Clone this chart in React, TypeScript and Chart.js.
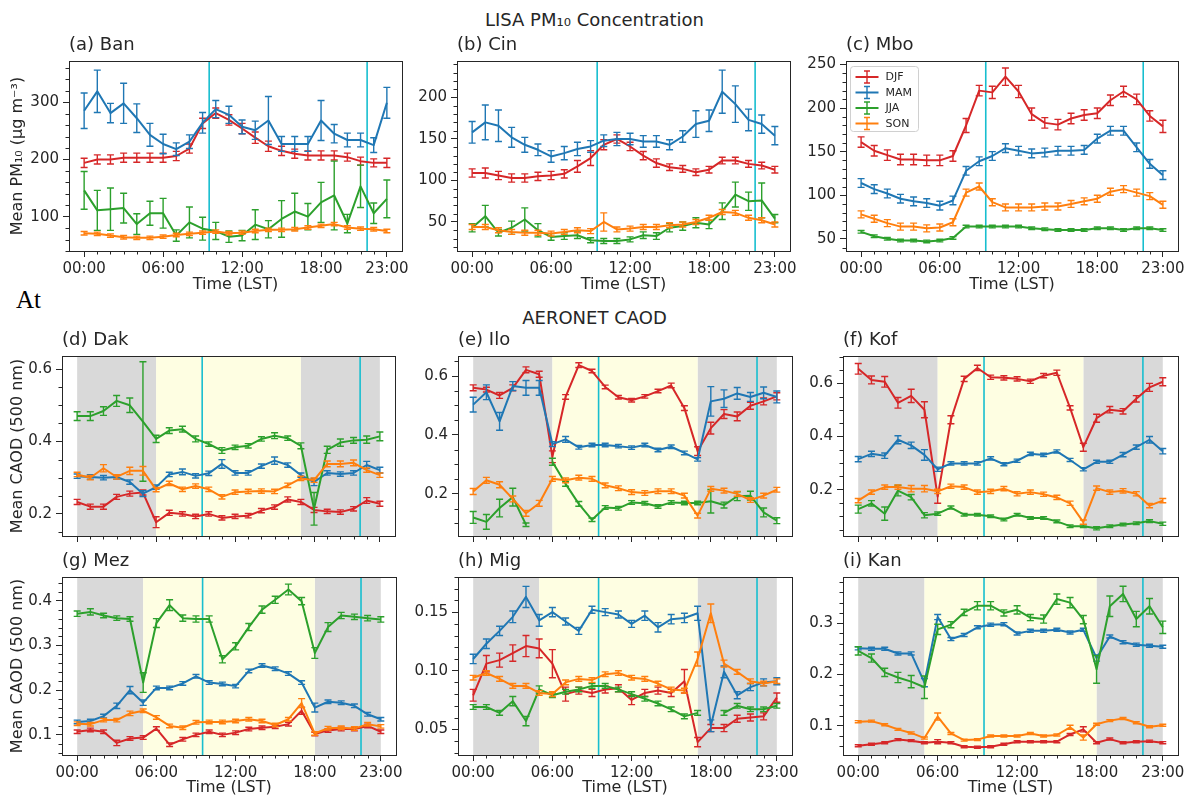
import { useEffect, useRef } from "react";
import { Chart, registerables } from "chart.js";

Chart.register(...registerables);

const FONT = '"DejaVu Sans", "Noto Sans", sans-serif';
const INK = "#262626";
const NIGHT_GRAY = "#d9d9d9";
const DAY_YELLOW = "#fefee2";
const OVERPASS_CYAN = "#17becf";

// Hours of the day (LST) and axis ticks
const HOURS = [0, 1, 2, 3, 4, 5, 6, 7, 8, 9, 10, 11, 12, 13, 14, 15, 16, 17, 18, 19, 20, 21, 22, 23];
const HOUR_TICKS = [0, 6, 12, 18, 23];
const HOUR_TICK_LABELS = ["00:00", "06:00", "12:00", "18:00", "23:00"];
const OVERPASS_HOURS = [9.5, 21.5];

const SEASONS = ["DJF", "MAM", "JJA", "SON"];
const SEASON_COLORS = ["#d62728", "#1f77b4", "#2ca02c", "#ff7f0e"];

// ---- LISA PM10 (µg m-3) ----
const banDJF = [194, 200, 200, 203, 203, 203, 203, 206, 219, 263, 281, 269, 254, 238, 223, 215, 210, 207, 207, 207, 204, 197, 194, 194];
const banDJFErr = [8, 8, 8, 8, 8, 8, 8, 8, 8, 9, 9, 9, 9, 10, 9, 8, 8, 8, 8, 8, 7, 7, 7, 8];
const banMAM = [285, 319, 281, 298, 272, 243, 227, 218, 231, 264, 288, 278, 257, 251, 268, 227, 227, 227, 268, 245, 234, 234, 225, 299];
const banMAMErr = [31, 37, 17, 35, 25, 20, 17, 11, 12, 18, 15, 15, 12, 16, 42, 13, 13, 13, 35, 16, 12, 12, 13, 27];
const banJJA = [146, 111, 113, 115, 87, 106, 106, 67, 90, 79, 75, 65, 67, 86, 78, 96, 109, 100, 125, 137, 88, 153, 106, 131];
const banJJAErr = [33, 35, 37, 26, 18, 21, 26, 10, 27, 20, 15, 10, 9, 26, 15, 32, 32, 23, 35, 60, 16, 37, 18, 33];
const banSON = [71, 70, 67, 64, 63, 63, 65, 68, 70, 72, 74, 71, 72, 75, 77, 77, 78, 81, 84, 87, 81, 79, 78, 75];
const banSONErr = [3, 3, 3, 3, 3, 3, 3, 3, 3, 3, 3, 3, 3, 3, 3, 3, 3, 3, 3, 3, 3, 3, 3, 3];

const cinDJF = [109, 109, 106, 103, 103, 105, 106, 108, 117, 127, 143, 150, 141, 130, 121, 116, 114, 110, 113, 124, 124, 120, 118, 113];
const cinDJFErr = [5, 6, 5, 5, 5, 5, 5, 5, 7, 9, 6, 5, 5, 5, 5, 4, 4, 4, 4, 4, 4, 4, 4, 4];
const cinMAM = [158, 170, 166, 152, 143, 137, 129, 133, 138, 141, 148, 150, 150, 147, 147, 143, 153, 168, 172, 207, 192, 173, 168, 154];
const cinMAMErr = [13, 21, 19, 12, 9, 7, 7, 8, 8, 7, 7, 8, 7, 7, 7, 6, 7, 16, 13, 26, 22, 13, 11, 11];
const cinJJA = [43, 57, 37, 43, 53, 40, 32, 33, 34, 28, 27, 27, 29, 34, 33, 43, 45, 49, 47, 63, 83, 75, 76, 54];
const cinJJAErr = [5, 13, 4, 8, 14, 8, 4, 4, 4, 3, 3, 3, 3, 4, 4, 5, 5, 6, 5, 10, 15, 11, 21, 5];
const cinSON = [44, 44, 40, 38, 37, 37, 36, 38, 40, 39, 50, 41, 42, 44, 44, 46, 47, 50, 55, 62, 61, 55, 52, 47];
const cinSONErr = [3, 3, 3, 3, 3, 3, 3, 3, 3, 3, 11, 3, 3, 3, 3, 3, 3, 3, 3, 3, 3, 3, 3, 3];

const mboDJF = [161, 151, 146, 141, 141, 140, 140, 145, 180, 220, 218, 236, 219, 193, 183, 181, 188, 192, 194, 209, 219, 210, 191, 179];
const mboDJFErr = [6, 6, 6, 6, 6, 6, 6, 6, 8, 6, 7, 10, 7, 7, 6, 6, 6, 6, 6, 6, 6, 6, 6, 7];
const mboMAM = [114, 107, 102, 96, 93, 91, 88, 94, 128, 139, 145, 154, 151, 148, 149, 151, 151, 152, 165, 174, 174, 155, 136, 123];
const mboMAMErr = [5, 5, 5, 5, 5, 5, 5, 5, 5, 5, 5, 5, 5, 5, 5, 5, 5, 5, 5, 5, 5, 5, 5, 5];
const mboJJA = [58, 53, 50, 48, 48, 47, 48, 51, 64, 64, 64, 64, 64, 62, 61, 60, 60, 60, 62, 62, 60, 62, 62, 60];
const mboJJAErr = [1.5, 1.5, 1.5, 1.5, 1.5, 1.5, 1.5, 1.5, 1.5, 1.5, 1.5, 1.5, 1.5, 1.5, 1.5, 1.5, 1.5, 1.5, 1.5, 1.5, 1.5, 1.5, 1.5, 1.5];
const mboSON = [78, 73, 68, 64, 64, 62, 63, 69, 103, 110, 92, 86, 86, 86, 87, 87, 90, 93, 96, 104, 107, 103, 99, 89];
const mboSONErr = [4, 4, 4, 4, 4, 4, 4, 4, 4, 4, 4, 4, 4, 4, 4, 4, 4, 4, 4, 4, 4, 4, 4, 4];

// ---- AERONET CAOD (500 nm) ----
const dakDJF = [0.233, 0.22, 0.22, 0.247, 0.256, 0.259, 0.177, 0.203, 0.2, 0.193, 0.2, 0.189, 0.193, 0.195, 0.209, 0.219, 0.24, 0.233, 0.211, 0.207, 0.205, 0.214, 0.237, 0.228];
const dakDJFErr = [0.007, 0.007, 0.007, 0.007, 0.007, 0.007, 0.015, 0.007, 0.006, 0.006, 0.006, 0.006, 0.006, 0.006, 0.006, 0.006, 0.007, 0.007, 0.007, 0.006, 0.006, 0.006, 0.008, 0.007];
const dakMAM = [0.304, 0.302, 0.3, 0.302, 0.288, 0.256, 0.274, 0.309, 0.316, 0.305, 0.312, 0.338, 0.313, 0.313, 0.332, 0.347, 0.335, 0.307, 0.288, 0.313, 0.31, 0.313, 0.335, 0.321];
const dakMAMErr = [0.006, 0.006, 0.006, 0.006, 0.006, 0.008, 0.006, 0.006, 0.008, 0.006, 0.006, 0.012, 0.006, 0.006, 0.006, 0.01, 0.006, 0.006, 0.01, 0.006, 0.006, 0.006, 0.01, 0.008];
const dakJJA = [0.47, 0.47, 0.484, 0.512, 0.5, 0.455, 0.407, 0.43, 0.434, 0.407, 0.393, 0.375, 0.384, 0.388, 0.407, 0.416, 0.409, 0.388, 0.214, 0.377, 0.397, 0.403, 0.405, 0.414];
const dakJJAErr = [0.012, 0.012, 0.012, 0.015, 0.02, 0.165, 0.01, 0.008, 0.008, 0.008, 0.006, 0.008, 0.006, 0.006, 0.006, 0.008, 0.006, 0.008, 0.045, 0.01, 0.01, 0.008, 0.01, 0.012];
const dakSON = [0.309, 0.3, 0.326, 0.302, 0.319, 0.319, 0.267, 0.284, 0.268, 0.277, 0.268, 0.247, 0.26, 0.262, 0.263, 0.262, 0.279, 0.298, 0.293, 0.338, 0.338, 0.341, 0.321, 0.307];
const dakSONErr = [0.006, 0.006, 0.01, 0.006, 0.01, 0.012, 0.006, 0.006, 0.006, 0.006, 0.006, 0.006, 0.006, 0.006, 0.006, 0.006, 0.006, 0.006, 0.006, 0.008, 0.008, 0.008, 0.006, 0.006];

const iloDJF = [0.56, 0.554, 0.534, 0.56, 0.621, 0.606, 0.326, 0.529, 0.637, 0.617, 0.563, 0.528, 0.518, 0.531, 0.549, 0.568, 0.491, 0.345, 0.423, 0.471, 0.463, 0.499, 0.514, 0.531];
const iloDJFErr = [0.01, 0.008, 0.01, 0.01, 0.01, 0.01, 0.02, 0.008, 0.008, 0.006, 0.006, 0.006, 0.006, 0.006, 0.006, 0.008, 0.008, 0.015, 0.02, 0.015, 0.015, 0.012, 0.012, 0.012];
const iloMAM = [0.503, 0.545, 0.446, 0.566, 0.56, 0.56, 0.369, 0.385, 0.358, 0.366, 0.366, 0.362, 0.357, 0.366, 0.349, 0.36, 0.339, 0.317, 0.514, 0.523, 0.541, 0.529, 0.543, 0.529];
const iloMAMErr = [0.025, 0.025, 0.03, 0.015, 0.025, 0.025, 0.008, 0.01, 0.006, 0.006, 0.006, 0.006, 0.006, 0.006, 0.006, 0.006, 0.006, 0.006, 0.05, 0.03, 0.02, 0.015, 0.02, 0.02];
const iloJJA = [0.12, 0.105, 0.152, 0.189, 0.095, null, 0.309, 0.234, 0.166, 0.112, 0.154, 0.151, 0.171, 0.168, 0.157, 0.171, 0.169, 0.169, 0.175, 0.162, 0.192, 0.194, 0.137, 0.109];
const iloJJAErr = [0.02, 0.025, 0.03, 0.03, 0.006, 0, 0.012, 0.008, 0.008, 0.006, 0.006, 0.006, 0.006, 0.006, 0.006, 0.006, 0.006, 0.006, 0.04, 0.01, 0.015, 0.015, 0.015, 0.01];
const iloSON = [0.208, 0.246, 0.231, 0.183, 0.134, 0.168, 0.251, 0.246, 0.255, 0.251, 0.229, 0.219, 0.206, 0.203, 0.209, 0.209, 0.194, 0.126, 0.217, 0.211, 0.2, 0.179, 0.194, 0.214];
const iloSONErr = [0.01, 0.01, 0.01, 0.01, 0.01, 0.01, 0.008, 0.008, 0.008, 0.008, 0.008, 0.008, 0.008, 0.008, 0.008, 0.008, 0.008, 0.008, 0.008, 0.008, 0.008, 0.008, 0.008, 0.008];

const kofDJF = [0.655, 0.613, 0.606, 0.527, 0.553, 0.501, 0.174, 0.463, 0.617, 0.658, 0.623, 0.621, 0.617, 0.608, 0.629, 0.64, 0.508, 0.36, 0.469, 0.501, 0.495, 0.542, 0.585, 0.606];
const kofDJFErr = [0.02, 0.015, 0.02, 0.02, 0.025, 0.03, 0.025, 0.015, 0.01, 0.01, 0.008, 0.008, 0.008, 0.008, 0.008, 0.01, 0.008, 0.015, 0.015, 0.012, 0.01, 0.012, 0.015, 0.015];
const kofMAM = [0.315, 0.335, 0.328, 0.388, 0.367, 0.331, 0.277, 0.299, 0.299, 0.299, 0.318, 0.296, 0.309, 0.335, 0.331, 0.344, 0.312, 0.277, 0.305, 0.305, 0.332, 0.36, 0.388, 0.345];
const kofMAMErr = [0.01, 0.01, 0.01, 0.015, 0.012, 0.02, 0.008, 0.006, 0.006, 0.006, 0.006, 0.006, 0.006, 0.006, 0.006, 0.006, 0.006, 0.006, 0.006, 0.006, 0.008, 0.008, 0.012, 0.01];
const kofJJA = [0.127, 0.149, 0.11, 0.197, 0.172, 0.104, 0.11, 0.133, 0.106, 0.106, 0.1, 0.088, 0.106, 0.094, 0.094, 0.081, 0.063, 0.063, 0.055, 0.063, 0.069, 0.074, 0.082, 0.072];
const kofJJAErr = [0.015, 0.01, 0.025, 0.02, 0.01, 0.01, 0.006, 0.006, 0.005, 0.005, 0.005, 0.005, 0.005, 0.005, 0.005, 0.005, 0.005, 0.005, 0.006, 0.005, 0.005, 0.005, 0.005, 0.006];
const kofSON = [0.159, 0.191, 0.21, 0.21, 0.204, 0.204, 0.194, 0.213, 0.21, 0.191, 0.194, 0.204, 0.185, 0.191, 0.183, 0.171, 0.149, 0.078, 0.206, 0.191, 0.196, 0.185, 0.14, 0.159];
const kofSONErr = [0.008, 0.008, 0.008, 0.008, 0.012, 0.012, 0.008, 0.008, 0.008, 0.008, 0.008, 0.008, 0.008, 0.008, 0.008, 0.008, 0.008, 0.008, 0.008, 0.008, 0.008, 0.008, 0.008, 0.008];

const mezDJF = [0.107, 0.111, 0.107, 0.082, 0.092, 0.094, 0.114, 0.078, 0.09, 0.1, 0.107, 0.1, 0.105, 0.113, 0.116, 0.118, 0.124, 0.154, 0.102, 0.11, 0.113, 0.113, 0.12, 0.107];
const mezDJFErr = [0.004, 0.004, 0.004, 0.006, 0.004, 0.004, 0.004, 0.004, 0.004, 0.004, 0.004, 0.004, 0.004, 0.004, 0.004, 0.004, 0.004, 0.008, 0.004, 0.004, 0.004, 0.004, 0.004, 0.004];
const mezMAM = [0.129, 0.131, 0.142, 0.165, 0.2, 0.172, 0.205, 0.205, 0.215, 0.231, 0.217, 0.214, 0.209, 0.243, 0.255, 0.248, 0.237, 0.217, 0.161, 0.174, 0.172, 0.165, 0.146, 0.135];
const mezMAMErr = [0.004, 0.004, 0.004, 0.006, 0.008, 0.006, 0.004, 0.004, 0.004, 0.004, 0.004, 0.004, 0.004, 0.004, 0.004, 0.004, 0.004, 0.004, 0.01, 0.004, 0.004, 0.004, 0.004, 0.004];
const mezJJA = [0.371, 0.375, 0.367, 0.361, 0.359, 0.217, 0.35, 0.39, 0.361, 0.359, 0.359, 0.269, 0.298, 0.341, 0.38, 0.402, 0.425, 0.399, 0.283, 0.341, 0.367, 0.364, 0.361, 0.358];
const mezJJAErr = [0.006, 0.007, 0.005, 0.005, 0.005, 0.022, 0.01, 0.012, 0.007, 0.007, 0.007, 0.008, 0.008, 0.008, 0.008, 0.008, 0.012, 0.008, 0.012, 0.01, 0.007, 0.006, 0.006, 0.006];
const mezSON = [0.125, 0.124, 0.133, 0.133, 0.148, 0.154, 0.139, 0.12, 0.116, 0.128, 0.129, 0.129, 0.131, 0.135, 0.131, 0.122, 0.135, 0.171, 0.103, 0.115, 0.116, 0.114, 0.124, 0.119];
const mezSONErr = [0.004, 0.004, 0.004, 0.004, 0.005, 0.004, 0.004, 0.004, 0.004, 0.004, 0.004, 0.004, 0.004, 0.004, 0.004, 0.004, 0.004, 0.01, 0.004, 0.004, 0.004, 0.004, 0.004, 0.004];

const migDJF = [0.079, 0.106, 0.109, 0.115, 0.121, 0.119, 0.106, 0.08, 0.083, 0.081, 0.084, 0.085, 0.075, 0.081, 0.083, 0.081, 0.091, 0.039, 0.051, 0.051, 0.059, 0.06, 0.061, 0.077];
const migDJFErr = [0.005, 0.007, 0.006, 0.007, 0.009, 0.008, 0.012, 0.006, 0.003, 0.003, 0.003, 0.003, 0.004, 0.003, 0.003, 0.003, 0.01, 0.004, 0.003, 0.003, 0.003, 0.003, 0.003, 0.004];
const migMAM = [0.11, 0.123, 0.134, 0.146, 0.163, 0.143, 0.15, 0.142, 0.134, 0.152, 0.15, 0.148, 0.14, 0.147, 0.137, 0.144, 0.145, 0.149, 0.053, 0.099, 0.079, 0.086, 0.09, 0.091];
const migMAMErr = [0.004, 0.004, 0.004, 0.005, 0.009, 0.005, 0.004, 0.003, 0.003, 0.003, 0.003, 0.003, 0.003, 0.004, 0.004, 0.004, 0.004, 0.006, 0.005, 0.005, 0.003, 0.003, 0.003, 0.003];
const migJJA = [0.069, 0.069, 0.064, 0.074, 0.057, 0.084, 0.079, 0.082, 0.084, 0.087, 0.087, 0.084, 0.08, 0.076, 0.072, 0.067, 0.061, 0.064, null, 0.064, 0.07, 0.067, 0.067, 0.07];
const migJJAErr = [0.002, 0.002, 0.002, 0.004, 0.004, 0.003, 0.002, 0.002, 0.002, 0.002, 0.002, 0.002, 0.002, 0.002, 0.002, 0.002, 0.002, 0.002, 0, 0.002, 0.002, 0.002, 0.002, 0.002];
const migSON = [0.094, 0.098, 0.093, 0.087, 0.087, 0.081, 0.08, 0.09, 0.093, 0.092, 0.097, 0.098, 0.094, 0.093, 0.089, 0.084, 0.083, 0.11, 0.149, 0.106, 0.099, 0.091, 0.089, 0.091];
const migSONErr = [0.002, 0.002, 0.002, 0.002, 0.002, 0.002, 0.002, 0.002, 0.002, 0.002, 0.002, 0.002, 0.002, 0.002, 0.002, 0.002, 0.002, 0.006, 0.008, 0.003, 0.002, 0.002, 0.002, 0.002];

const kanDJF = [0.061, 0.064, 0.067, 0.073, 0.071, 0.067, 0.069, 0.067, 0.059, 0.058, 0.059, 0.064, 0.069, 0.069, 0.069, 0.069, 0.083, 0.093, 0.067, 0.074, 0.067, 0.069, 0.07, 0.067];
const kanDJFErr = [0.002, 0.002, 0.002, 0.002, 0.002, 0.002, 0.004, 0.002, 0.002, 0.002, 0.002, 0.002, 0.002, 0.002, 0.002, 0.002, 0.002, 0.005, 0.002, 0.002, 0.002, 0.002, 0.002, 0.002];
const kanMAM = [0.251, 0.25, 0.25, 0.241, 0.241, 0.184, 0.312, 0.269, 0.277, 0.292, 0.297, 0.298, 0.28, 0.285, 0.285, 0.287, 0.282, 0.287, 0.232, 0.274, 0.263, 0.258, 0.256, 0.254];
const kanMAMErr = [0.003, 0.003, 0.003, 0.003, 0.003, 0.008, 0.005, 0.003, 0.003, 0.003, 0.003, 0.003, 0.003, 0.003, 0.003, 0.003, 0.003, 0.003, 0.006, 0.003, 0.003, 0.003, 0.003, 0.003];
const kanJJA = [0.246, 0.232, 0.204, 0.194, 0.186, 0.175, 0.288, 0.297, 0.321, 0.334, 0.334, 0.32, 0.326, 0.311, 0.308, 0.347, 0.34, 0.307, 0.21, 0.333, 0.357, 0.308, 0.333, 0.292];
const kanJJAErr = [0.008, 0.008, 0.008, 0.01, 0.012, 0.022, 0.01, 0.006, 0.006, 0.008, 0.008, 0.006, 0.008, 0.006, 0.008, 0.01, 0.01, 0.008, 0.027, 0.02, 0.015, 0.015, 0.015, 0.012];
const kanSON = [0.108, 0.109, 0.102, 0.093, 0.086, 0.076, 0.118, 0.085, 0.072, 0.073, 0.08, 0.08, 0.08, 0.085, 0.08, 0.082, 0.097, 0.077, 0.103, 0.11, 0.114, 0.106, 0.098, 0.101];
const kanSONErr = [0.002, 0.002, 0.002, 0.002, 0.002, 0.002, 0.007, 0.002, 0.002, 0.002, 0.002, 0.002, 0.002, 0.002, 0.002, 0.002, 0.004, 0.005, 0.002, 0.002, 0.002, 0.002, 0.002, 0.002];

// Y-axis ticks per panel
const banYTicks = [100, 200, 300];
const banYLabels = ["100", "200", "300"];
const cinYTicks = [50, 100, 150, 200];
const cinYLabels = ["50", "100", "150", "200"];
const mboYTicks = [50, 100, 150, 200, 250];
const mboYLabels = ["50", "100", "150", "200", "250"];
const caodWideTicks = [0.2, 0.4, 0.6];
const caodWideLabels = ["0.2", "0.4", "0.6"];
const mezYTicks = [0.1, 0.2, 0.3, 0.4];
const mezYLabels = ["0.1", "0.2", "0.3", "0.4"];
const migYTicks = [0.05, 0.1, 0.15];
const migYLabels = ["0.05", "0.10", "0.15"];
const kanYTicks = [0.1, 0.2, 0.3];
const kanYLabels = ["0.1", "0.2", "0.3"];

// Night (gray) and daytime (yellow) hour spans
const dakNight = [[0, 6], [17, 23]];
const dakDay = [6, 17];
const iloNight = [[0, 6], [17, 23]];
const iloDay = [6, 17];
const kofNight = [[0, 6], [17, 23]];
const kofDay = [6, 17];
const mezNight = [[0, 5], [18, 23]];
const mezDay = [5, 18];
const migNight = [[0, 5], [17, 23]];
const migDay = [5, 17];
const kanNight = [[0, 5], [18, 23]];
const kanDay = [5, 18];

const TITLE_BAND = 30;
const RIGHT_PAD = 11;
const X_MIN = -1.15;
const X_MAX = 24.15;
const PM_LABEL = "Mean PM\u2081\u2080 (\u03bcg m\u207b\u00b3)";
const CAOD_LABEL = "Mean CAOD (500 nm)";

type Spec = {
  key: string;
  title: string;
  series: (number | null)[][];
  errors: number[][];
  yMin: number;
  yMax: number;
  yTicks: number[];
  yLabels: string[];
  yMinor: number;
  yTitle?: string;
  xLabels: boolean;
  night?: number[][];
  day?: number[];
  legend?: boolean;
  plotLeft: number;
  plotRight: number;
  plotTop: number;
  plotBottom: number;
  canvasLeft: number;
  axisHeight: number;
};

const ROW1 = { plotTop: 61, plotBottom: 251, axisHeight: 49, xLabels: true };
const ROW2 = { plotTop: 356, plotBottom: 536, axisHeight: 16, xLabels: false };
const ROW3 = { plotTop: 577, plotBottom: 755, axisHeight: 42, xLabels: true };

const PANELS: Spec[] = [
  {
    key: "a", title: "(a) Ban", ...ROW1,
    series: [banDJF, banMAM, banJJA, banSON], errors: [banDJFErr, banMAMErr, banJJAErr, banSONErr],
    yMin: 40, yMax: 372, yTicks: banYTicks, yLabels: banYLabels, yMinor: 20, yTitle: PM_LABEL,
    plotLeft: 69, plotRight: 402, canvasLeft: 0,
  },
  {
    key: "b", title: "(b) Cin", ...ROW1,
    series: [cinDJF, cinMAM, cinJJA, cinSON], errors: [cinDJFErr, cinMAMErr, cinJJAErr, cinSONErr],
    yMin: 15, yMax: 244, yTicks: cinYTicks, yLabels: cinYLabels, yMinor: 10,
    plotLeft: 457, plotRight: 790, canvasLeft: 400,
  },
  {
    key: "c", title: "(c) Mbo", ...ROW1, legend: true,
    series: [mboDJF, mboMAM, mboJJA, mboSON], errors: [mboDJFErr, mboMAMErr, mboJJAErr, mboSONErr],
    yMin: 36, yMax: 254, yTicks: mboYTicks, yLabels: mboYLabels, yMinor: 10,
    plotLeft: 846, plotRight: 1178, canvasLeft: 795,
  },
  {
    key: "d", title: "(d) Dak", ...ROW2, night: dakNight, day: dakDay,
    series: [dakDJF, dakMAM, dakJJA, dakSON], errors: [dakDJFErr, dakMAMErr, dakJJAErr, dakSONErr],
    yMin: 0.139, yMax: 0.636, yTicks: caodWideTicks, yLabels: caodWideLabels, yMinor: 0.05, yTitle: CAOD_LABEL,
    plotLeft: 62, plotRight: 395, canvasLeft: 0,
  },
  {
    key: "e", title: "(e) Ilo", ...ROW2, night: iloNight, day: iloDay,
    series: [iloDJF, iloMAM, iloJJA, iloSON], errors: [iloDJFErr, iloMAMErr, iloJJAErr, iloSONErr],
    yMin: 0.057, yMax: 0.668, yTicks: caodWideTicks, yLabels: caodWideLabels, yMinor: 0.05,
    plotLeft: 458, plotRight: 792, canvasLeft: 400,
  },
  {
    key: "f", title: "(f) Kof", ...ROW2, night: kofNight, day: kofDay,
    series: [kofDJF, kofMAM, kofJJA, kofSON], errors: [kofDJFErr, kofMAMErr, kofJJAErr, kofSONErr],
    yMin: 0.026, yMax: 0.703, yTicks: caodWideTicks, yLabels: caodWideLabels, yMinor: 0.05,
    plotLeft: 843, plotRight: 1178, canvasLeft: 795,
  },
  {
    key: "g", title: "(g) Mez", ...ROW3, night: mezNight, day: mezDay,
    series: [mezDJF, mezMAM, mezJJA, mezSON], errors: [mezDJFErr, mezMAMErr, mezJJAErr, mezSONErr],
    yMin: 0.055, yMax: 0.453, yTicks: mezYTicks, yLabels: mezYLabels, yMinor: 0.02, yTitle: CAOD_LABEL,
    plotLeft: 62, plotRight: 396, canvasLeft: 0,
  },
  {
    key: "h", title: "(h) Mig", ...ROW3, night: migNight, day: migDay,
    series: [migDJF, migMAM, migJJA, migSON], errors: [migDJFErr, migMAMErr, migJJAErr, migSONErr],
    yMin: 0.028, yMax: 0.18, yTicks: migYTicks, yLabels: migYLabels, yMinor: 0.01,
    plotLeft: 458, plotRight: 792, canvasLeft: 400,
  },
  {
    key: "i", title: "(i) Kan", ...ROW3, night: kanNight, day: kanDay,
    series: [kanDJF, kanMAM, kanJJA, kanSON], errors: [kanDJFErr, kanMAMErr, kanJJAErr, kanSONErr],
    yMin: 0.043, yMax: 0.39, yTicks: kanYTicks, yLabels: kanYLabels, yMinor: 0.02,
    plotLeft: 843, plotRight: 1178, canvasLeft: 795,
  },
];

// Shading, overpass lines, error bars, minor ticks, frame and legend
function makeDecor(spec: Spec) {
  return {
    id: "panelDecor",
    beforeDatasetsDraw(chart: any) {
      const { ctx, chartArea: a, scales } = chart;
      const x = scales.x;
      ctx.save();
      ctx.beginPath();
      ctx.rect(a.left, a.top, a.right - a.left, a.bottom - a.top);
      ctx.clip();
      if (spec.night) {
        ctx.fillStyle = NIGHT_GRAY;
        for (const [s, e] of spec.night) {
          const x0 = x.getPixelForValue(s);
          ctx.fillRect(x0, a.top, x.getPixelForValue(e) - x0, a.bottom - a.top);
        }
      }
      if (spec.day) {
        ctx.fillStyle = DAY_YELLOW;
        const x0 = x.getPixelForValue(spec.day[0]);
        ctx.fillRect(x0, a.top, x.getPixelForValue(spec.day[1]) - x0, a.bottom - a.top);
      }
      ctx.strokeStyle = OVERPASS_CYAN;
      ctx.lineWidth = 1.6;
      for (const h of OVERPASS_HOURS) {
        const px = x.getPixelForValue(h);
        ctx.beginPath();
        ctx.moveTo(px, a.top);
        ctx.lineTo(px, a.bottom);
        ctx.stroke();
      }
      ctx.restore();
    },
    afterDatasetDraw(chart: any, args: any) {
      const { ctx, chartArea: a, scales } = chart;
      const y = scales.y;
      const i = args.index;
      const vals = spec.series[i];
      const errs = spec.errors[i];
      ctx.save();
      ctx.beginPath();
      ctx.rect(a.left, a.top, a.right - a.left, a.bottom - a.top);
      ctx.clip();
      ctx.strokeStyle = SEASON_COLORS[i];
      ctx.lineWidth = 1.4;
      args.meta.data.forEach((pt: any, j: number) => {
        const v = vals[j];
        if (v === null || v === undefined) return;
        const e = errs[j];
        const yt = y.getPixelForValue(v + e);
        const yb = y.getPixelForValue(v - e);
        ctx.beginPath();
        ctx.moveTo(pt.x, yt);
        ctx.lineTo(pt.x, yb);
        ctx.moveTo(pt.x - 3.5, yt);
        ctx.lineTo(pt.x + 3.5, yt);
        ctx.moveTo(pt.x - 3.5, yb);
        ctx.lineTo(pt.x + 3.5, yb);
        ctx.stroke();
      });
      ctx.restore();
    },
    afterDraw(chart: any) {
      const { ctx, chartArea: a, scales } = chart;
      const x = scales.x;
      const y = scales.y;
      ctx.save();
      ctx.strokeStyle = INK;
      ctx.lineWidth = 1;
      // minor ticks
      ctx.beginPath();
      for (const h of HOURS) {
        if (HOUR_TICKS.includes(h)) continue;
        const px = Math.round(x.getPixelForValue(h)) + 0.5;
        ctx.moveTo(px, a.bottom);
        ctx.lineTo(px, a.bottom + 3.5);
      }
      const start = Math.ceil(spec.yMin / spec.yMinor - 1e-6);
      const end = Math.floor(spec.yMax / spec.yMinor + 1e-6);
      for (let k = start; k <= end; k++) {
        const v = k * spec.yMinor;
        if (spec.yTicks.some((t) => Math.abs(t - v) < spec.yMinor * 0.01)) continue;
        const py = Math.round(y.getPixelForValue(v)) + 0.5;
        ctx.moveTo(a.left - 3.5, py);
        ctx.lineTo(a.left, py);
      }
      ctx.stroke();
      // frame
      ctx.strokeRect(Math.round(a.left) + 0.5, Math.round(a.top) + 0.5, Math.round(a.right - a.left), Math.round(a.bottom - a.top));
      // legend
      if (spec.legend) {
        const bx = a.left + 4.5;
        const by = a.top + 5.5;
        ctx.beginPath();
        ctx.roundRect(bx, by, 68, 65, 3);
        ctx.fillStyle = "rgba(255,255,255,0.85)";
        ctx.fill();
        ctx.strokeStyle = "#d0d0d0";
        ctx.stroke();
        ctx.font = `11px ${FONT}`;
        ctx.textBaseline = "middle";
        ctx.textAlign = "left";
        SEASONS.forEach((name, k) => {
          const cy = by + 10.5 + k * 15.5;
          ctx.strokeStyle = SEASON_COLORS[k];
          ctx.lineWidth = 2;
          ctx.beginPath();
          ctx.moveTo(bx + 5, cy);
          ctx.lineTo(bx + 28, cy);
          ctx.stroke();
          ctx.lineWidth = 1.4;
          ctx.beginPath();
          ctx.moveTo(bx + 16.5, cy - 6);
          ctx.lineTo(bx + 16.5, cy + 6);
          ctx.moveTo(bx + 13.5, cy - 6);
          ctx.lineTo(bx + 19.5, cy - 6);
          ctx.moveTo(bx + 13.5, cy + 6);
          ctx.lineTo(bx + 19.5, cy + 6);
          ctx.stroke();
          ctx.fillStyle = INK;
          ctx.fillText(name, bx + 35, cy + 0.5);
        });
      }
      ctx.restore();
    },
  };
}

function buildConfig(spec: Spec, yAxisWidth: number): any {
  return {
    type: "line",
    data: {
      datasets: spec.series.map((vals, i) => ({
        label: SEASONS[i],
        data: HOURS.map((h, j) => ({ x: h, y: vals[j] })),
        borderColor: SEASON_COLORS[i],
        backgroundColor: SEASON_COLORS[i],
        borderWidth: 2,
        borderJoinStyle: "round",
        pointRadius: 0,
        pointHoverRadius: 0,
        tension: 0,
        fill: false,
        spanGaps: false,
        order: spec.series.length - 1 - i,
      })),
    },
    options: {
      responsive: false,
      animation: false,
      events: [],
      layout: { padding: { left: 0, right: RIGHT_PAD, top: 0, bottom: 0 } },
      plugins: {
        legend: { display: false },
        tooltip: { enabled: false },
        title: {
          display: true,
          text: spec.title,
          align: "start",
          fullSize: false,
          color: INK,
          font: { family: FONT, size: 18, weight: "normal", lineHeight: 1.2 },
          padding: { top: 3.2, bottom: 5.2 },
        },
      },
      scales: {
        x: {
          type: "linear",
          position: "bottom",
          min: X_MIN,
          max: X_MAX,
          afterBuildTicks: (s: any) => {
            s.ticks = HOUR_TICKS.map((v) => ({ value: v }));
          },
          afterFit: (s: any) => {
            s.height = spec.axisHeight;
          },
          ticks: {
            display: spec.xLabels,
            autoSkip: false,
            maxRotation: 0,
            minRotation: 0,
            padding: 3,
            color: INK,
            font: { family: FONT, size: 15 },
            callback: (_v: any, i: number) => HOUR_TICK_LABELS[i],
          },
          grid: { display: true, drawOnChartArea: false, drawTicks: true, tickLength: 6, color: INK, lineWidth: 1 },
          border: { display: false },
          title: {
            display: spec.xLabels,
            text: "Time (LST)",
            color: INK,
            font: { family: FONT, size: 16, weight: "normal" },
            padding: { top: 0, bottom: Math.max(0, spec.axisHeight - 9.6 - 33.5) },
          },
        },
        y: {
          type: "linear",
          position: "left",
          min: spec.yMin,
          max: spec.yMax,
          afterBuildTicks: (s: any) => {
            s.ticks = spec.yTicks.map((v) => ({ value: v }));
          },
          afterFit: (s: any) => {
            s.width = yAxisWidth;
          },
          ticks: {
            autoSkip: false,
            padding: 4,
            color: INK,
            font: { family: FONT, size: 15 },
            callback: (_v: any, i: number) => spec.yLabels[i],
          },
          grid: { display: true, drawOnChartArea: false, drawTicks: true, tickLength: 6, color: INK, lineWidth: 1 },
          border: { display: false },
          title: {
            display: !!spec.yTitle,
            text: spec.yTitle || "",
            color: INK,
            font: { family: FONT, size: 16, weight: "normal" },
            padding: { top: 8.4, bottom: 0 },
          },
        },
      },
    },
    plugins: [makeDecor(spec)],
  };
}

function Panel({ spec }: { spec: Spec }) {
  const ref = useRef<HTMLCanvasElement | null>(null);
  const left = spec.canvasLeft;
  const top = spec.plotTop - TITLE_BAND;
  const width = spec.plotRight + RIGHT_PAD - left;
  const height = spec.plotBottom + spec.axisHeight - top;
  useEffect(() => {
    if (!ref.current) return;
    const chart = new Chart(ref.current, buildConfig(spec, spec.plotLeft - left));
    return () => chart.destroy();
  }, [spec, left]);
  return (
    <canvas
      ref={ref}
      width={width}
      height={height}
      style={{ position: "absolute", left, top, width, height }}
    />
  );
}

export default function App() {
  return (
    <div
      style={{
        position: "absolute",
        left: 0,
        top: 0,
        width: 1189,
        height: 797,
        overflow: "hidden",
        background: "#ffffff",
        fontFamily: FONT,
        color: INK,
      }}
    >
      <div style={{ position: "absolute", left: 0, top: 11, width: 1189, textAlign: "center", fontSize: 18, lineHeight: "18px" }}>
        LISA PM₁₀ Concentration
      </div>
      <div
        style={{
          position: "absolute",
          left: 16,
          top: 287,
          fontFamily: '"Liberation Serif", "Times New Roman", serif',
          fontSize: 25,
          lineHeight: 1,
          color: "#000",
        }}
      >
        At
      </div>
      <div style={{ position: "absolute", left: 0, top: 309, width: 1189, textAlign: "center", fontSize: 18, lineHeight: "18px" }}>
        AERONET CAOD
      </div>
      {PANELS.map((p) => (
        <Panel key={p.key} spec={p} />
      ))}
    </div>
  );
}
